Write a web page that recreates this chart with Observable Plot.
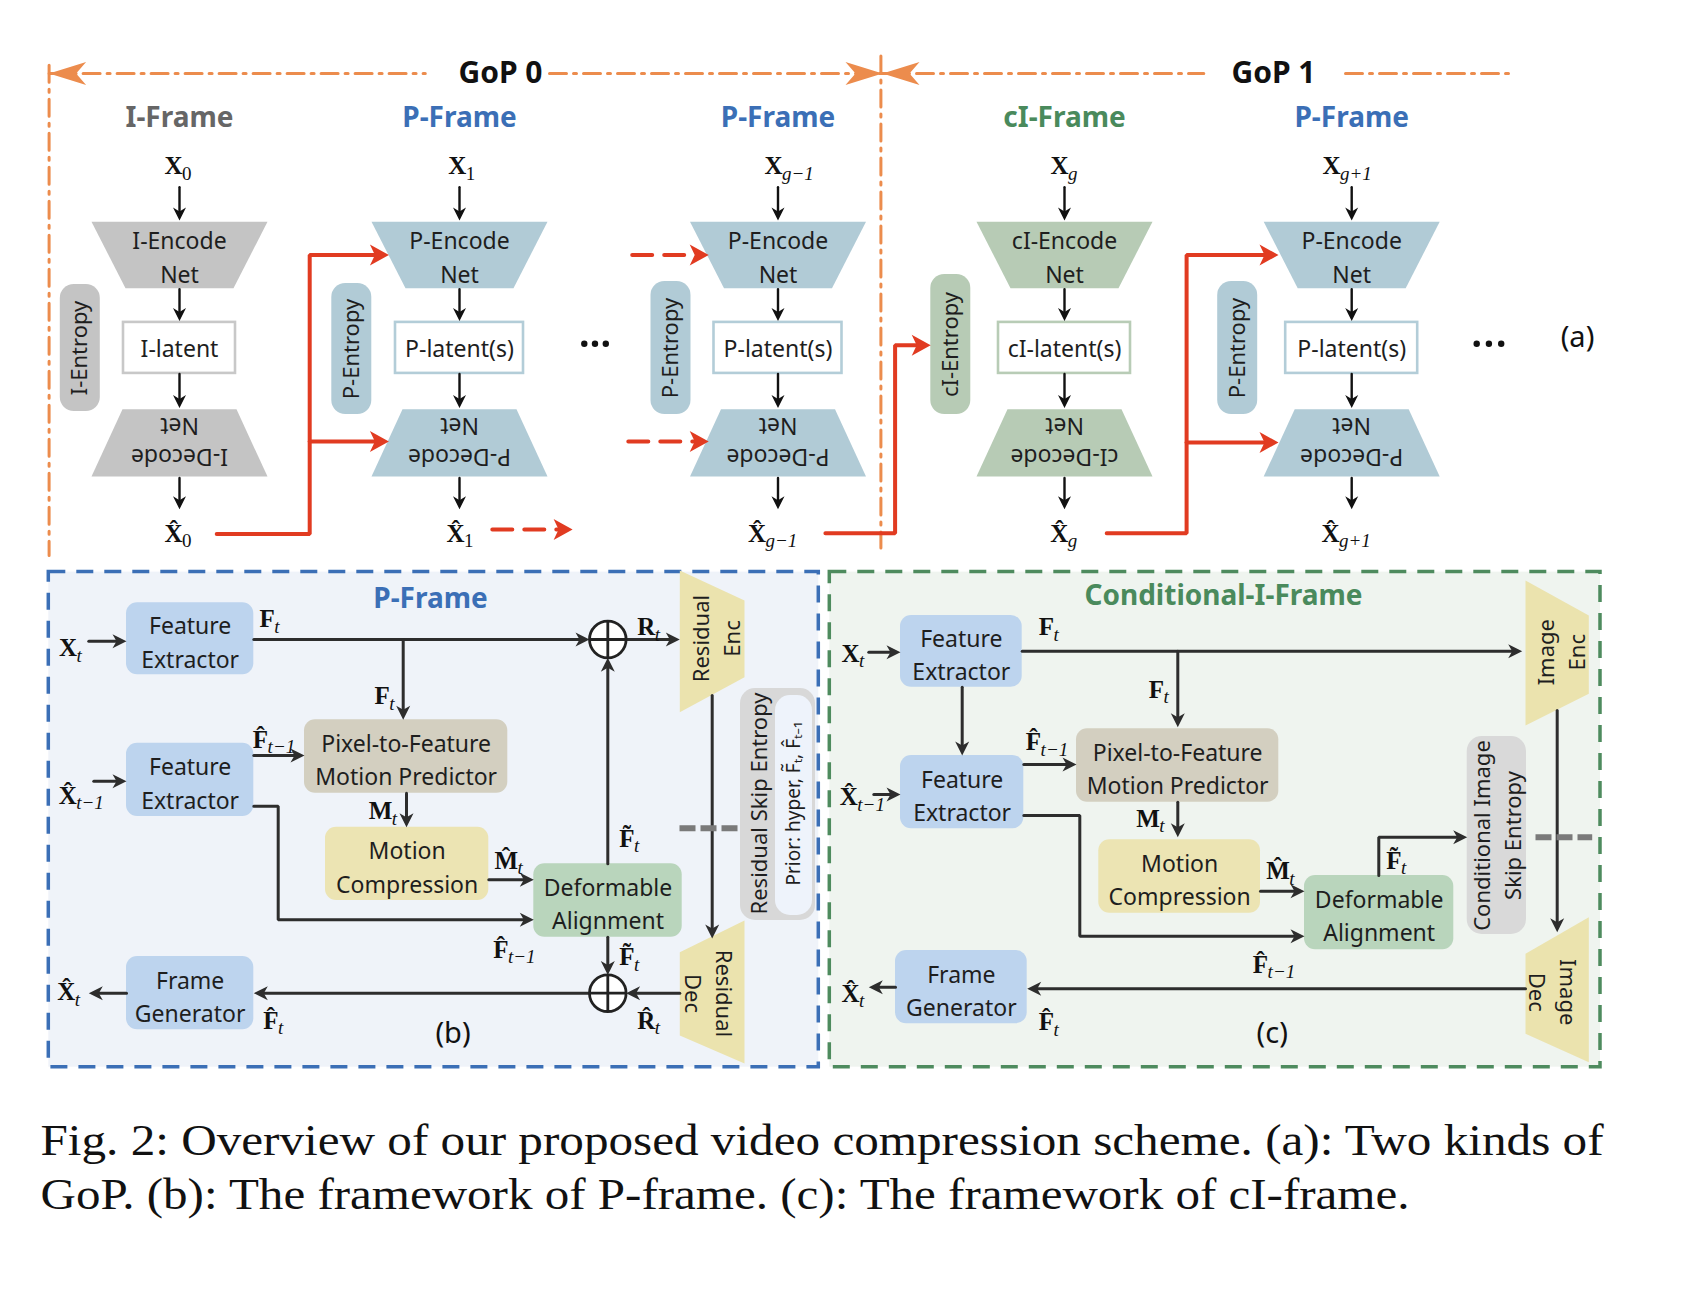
<!DOCTYPE html>
<html>
<head>
<meta charset="utf-8">
<script src="https://cdn.jsdelivr.net/npm/d3@7"></script>
<script src="https://cdn.jsdelivr.net/npm/@observablehq/plot@0.6"></script>
<style>
  html, body { margin: 0; padding: 0; background: #fff; }
  svg { display: block; }
</style>
</head>
<body>
<div id="chart"></div>
<script>
const W = 1682, H = 1296;

// ---------------- labels / categories ----------------
const frameTitles   = ["I-Frame", "P-Frame", "P-Frame", "cI-Frame", "P-Frame"];
const frameKinds    = ["I", "P", "P", "cI", "P"];
const encodeLabels  = ["I-Encode", "P-Encode", "P-Encode", "cI-Encode", "P-Encode"];
const latentLabels  = ["I-latent", "P-latent(s)", "P-latent(s)", "cI-latent(s)", "P-latent(s)"];
const decodeLabels  = ["I-Decode", "P-Decode", "P-Decode", "cI-Decode", "P-Decode"];
const entropyLabels = ["I-Entropy", "P-Entropy", "P-Entropy", "cI-Entropy", "P-Entropy"];
const frameIndex    = ["0", "1", "g−1", "g", "g+1"];
const gopLabels     = ["GoP 0", "GoP 1"];
const panelTitles   = ["P-Frame", "Conditional-I-Frame"];
const panelTags     = ["(a)", "(b)", "(c)"];
const moduleNames   = ["Feature\nExtractor", "Feature\nExtractor", "Frame\nGenerator",
                       "Pixel-to-Feature\nMotion Predictor", "Motion\nCompression", "Deformable\nAlignment"];
const moduleKinds   = ["fe", "fe", "fe", "pf", "mc", "da"];
const codecNames    = ["Residual\nEnc", "Residual\nDec", "Image\nEnc", "Image\nDec"];
const entropyNames  = ["Residual Skip Entropy", "Prior: hyper, F\u0303\u209C, F\u0302\u209C\u208B\u2081", "Conditional Image\nSkip Entropy"];
const captionLines  = [
  "Fig. 2: Overview of our proposed video compression scheme. (a): Two kinds of",
  "GoP. (b): The framework of P-frame. (c): The framework of cI-frame."
];

// ---------------- layout (diagram geometry) ----------------
const colX    = [179, 459, 777.5, 1064, 1351.2];
const entX    = [79.8, 351.3, 670.5, 950.3, 1237.2];
const entY    = [[284, 411], [283, 414], [281, 414], [274, 414], [281, 414]];
const latHalf = [56, 64, 64, 66, 66];
const inX     = [173, 456.7, 773, 1059, 1331];
const outX    = [173, 455, 756.5, 1058.8, 1330];

const panelBoxes = [
  {x1: 48.3, x2: 818.3, y1: 571.6, y2: 1066.7, fill: "#eff3f9", stroke: "#3b6fb6"},
  {x1: 829.3, x2: 1600, y1: 571.6, y2: 1066.7, fill: "#eff4ef", stroke: "#4e8b5e"}
];
const moduleBoxesB = [[126,253.3,602.3,674.3],[126,253.3,742.7,816],[126,253.3,956,1029.3],
                      [304,507.3,719.3,792.7],[325,488.3,826.7,900],[533.3,681.7,863.3,936.7]];
const moduleBoxesC = [[900,1021.7,615,686.7],[900,1023.3,755,828.3],[895,1026.7,950,1023.3],
                      [1076,1278.3,728.3,801.7],[1098.3,1260,839.3,912.7],[1304,1453.3,875,949.3]];

// ---------------- colours ----------------
const kindFill   = {I: "#c4c4c4", P: "#b1cbd6", cI: "#b7cbb5"};
const kindStroke = {I: "#c8c8c8", P: "#b3cdd8", cI: "#b8ccb6"};
const kindTitle  = {I: "#666666", P: "#3b6fb6", cI: "#4a8a5c"};
const moduleFill = {fe: "#bdd4ee", pf: "#d3cfc0", mc: "#ece4b3", da: "#b9d5bc"};
const ORANGE = "#ec8c4d", RED = "#e13b21", INK = "#1e1e1e", WIRE = "#2d2d2d";

// ---------------- geometry builders ----------------
const polys = [];
function poly(fill, pts) { polys.push({id: "p" + polys.length, fill, pts}); }
const wires = [];
function wire(style, pts, arrow = true) { wires.push({style, pts, arrow}); }
const wireStyles = {
  thin:    {stroke: "#111111", width: 2.4, dash: null, head: [13, 6.5, 4]},
  black:   {stroke: WIRE, width: 3, dash: null, head: [14, 7, 4]},
  red:     {stroke: RED, width: 4, dash: null, head: [19, 10.5, 5]},
  redDash: {stroke: RED, width: 4, dash: "20,12", head: [19, 10.5, 5]},
  orange:  {stroke: ORANGE, width: 3, dash: "17,7,3,7", head: null},
  gray:    {stroke: "#7a7a7a", width: 6, dash: "16,5", head: null}
};

// (a) trapezoids and boxes
const latentRects = [], pillRects = [];
frameKinds.forEach((k, i) => {
  const cx = colX[i];
  poly(kindFill[k], [[cx - 88, 221.2], [cx + 88, 221.2], [cx + 54, 287.8], [cx - 54, 287.8]]);
  poly(kindFill[k], [[cx - 57, 408.8], [cx + 57, 408.8], [cx + 88, 476.1], [cx - 88, 476.1]]);
  latentRects.push({x1: cx - latHalf[i], x2: cx + latHalf[i], y1: 321.9, y2: 372.9, stroke: kindStroke[k], label: latentLabels[i], cx});
  pillRects.push({x1: entX[i] - 20, x2: entX[i] + 20, y1: entY[i][0], y2: entY[i][1], fill: kindFill[k], label: entropyLabels[i], cx: entX[i], cy: (entY[i][0] + entY[i][1]) / 2});
  wire("thin", [[cx, 186.8], [cx, 220.1]]);
  wire("thin", [[cx, 288.6], [cx, 320.6]]);
  wire("thin", [[cx, 373.5], [cx, 407.5]]);
  wire("thin", [[cx, 477.5], [cx, 508.7]]);
});

// red reference-frame wires (a)
wire("red", [[216.2, 533.5], [309.2, 533.5], [309.2, 254.5], [388.4, 254.5]]);
wire("red", [[309.2, 441], [388.4, 441]]);
wire("redDash", [[491.8, 529], [572.1, 529]]);
wire("redDash", [[631.7, 254.5], [708.2, 254.5]]);
wire("redDash", [[627.8, 441], [708.2, 441]]);
wire("red", [[824.9, 532.7], [894.6, 532.7], [894.6, 344.8], [930.2, 344.8]]);
wire("red", [[1106.2, 532.7], [1186.1, 532.7], [1186.1, 254.5], [1278, 254.5]]);
wire("red", [[1186.1, 442], [1278, 442]]);

// GoP bracket lines
wire("orange", [[48.6, 72.9], [424.8, 72.9]], false);
wire("orange", [[549, 72.9], [882, 72.9]], false);
wire("orange", [[882, 72.9], [1203.3, 72.9]], false);
wire("orange", [[1345, 72.9], [1509.5, 72.9]], false);
wire("orange", [[48.6, 64.7], [48.6, 555]], false);
wire("orange", [[880.4, 55.5], [880.4, 547.5]], false);

// panel (b) wires
wire("black", [[88.3, 640.7], [126, 640.7]]);
wire("black", [[253.3, 639], [589, 639]]);
wire("black", [[402.7, 639], [402.7, 719.3]]);
wire("black", [[625.6, 639], [679.3, 639]]);
wire("black", [[93.3, 780.7], [126, 780.7]]);
wire("black", [[253.3, 755], [304, 755]]);
wire("black", [[253.3, 805.7], [277.7, 805.7], [277.7, 919.3], [533.3, 919.3]]);
wire("black", [[406, 792.7], [406, 826.7]]);
wire("black", [[488.3, 879.3], [533.3, 879.3]]);
wire("black", [[607.3, 863.3], [607.3, 657.3]]);
wire("black", [[607.3, 936.7], [607.3, 974.4]]);
wire("black", [[711.7, 695], [711.7, 938]]);
wire("black", [[679.3, 992.7], [625.6, 992.7]]);
wire("black", [[589, 992.7], [253.3, 992.7]]);
wire("black", [[126, 992.7], [88.3, 992.7]]);
wire("gray", [[679, 827.7], [737, 827.7]], false);

// panel (c) wires
wire("black", [[868.3, 651.7], [900, 651.7]]);
wire("black", [[1021.7, 650.7], [1521.7, 650.7]]);
wire("black", [[1177.3, 650.7], [1177.3, 726.7]]);
wire("black", [[961.7, 686.7], [961.7, 755]]);
wire("black", [[873.3, 794], [900, 794]]);
wire("black", [[1023.3, 764], [1076, 764]]);
wire("black", [[1177.3, 801.7], [1177.3, 836.7]]);
wire("black", [[1023.3, 815], [1079.3, 815], [1079.3, 935.7], [1304, 935.7]]);
wire("black", [[1260, 890.7], [1304, 890.7]]);
wire("black", [[1378.3, 875], [1378.3, 836.7], [1466.7, 836.7]]);
wire("black", [[1556.7, 710], [1556.7, 931.7]]);
wire("black", [[1525, 988.3], [1026.7, 988.3]]);
wire("black", [[895, 986.7], [868.3, 986.7]]);
wire("gray", [[1535, 836.7], [1591.7, 836.7]], false);

// codec trapezoids (b)/(c)
const codecPolys = [
  [[679.3, 570], [744, 600], [744, 676.7], [679.3, 711.7]],
  [[679.3, 951.7], [744, 920], [744, 1063], [679.3, 1035]],
  [[1525, 580], [1588.3, 615], [1588.3, 693.3], [1525, 725]],
  [[1525, 953.3], [1588.3, 916.7], [1588.3, 1061.7], [1525, 1033.3]]
];
const codecTextPos = [[714, 638, -90], [710, 993, 90], [1559, 651.7, -90], [1554, 991.7, 90]];

// arrowheads
const headPolys = [];
const lineRows = [];
wires.forEach((w, wi) => {
  const st = wireStyles[w.style];
  const pts = w.pts.map(p => p.slice());
  if (w.arrow && st.head) {
    const [len, hw, notch] = st.head;
    const p1 = pts[pts.length - 2], p2 = pts[pts.length - 1];
    const dx = p2[0] - p1[0], dy = p2[1] - p1[1], L = Math.hypot(dx, dy);
    const ux = dx / L, uy = dy / L, nx = -uy, ny = ux;
    const bx = p2[0] - ux * len, by = p2[1] - uy * len;
    const mx = p2[0] - ux * (len - notch), my = p2[1] - uy * (len - notch);
    headPolys.push({id: "h" + wi, fill: st.stroke,
      pts: [p2, [bx + nx * hw, by + ny * hw], [mx, my], [bx - nx * hw, by - ny * hw]]});
    pts[pts.length - 1] = [p2[0] - ux * (len - notch - 1), p2[1] - uy * (len - notch - 1)];
  }
  pts.forEach(([x, y]) => lineRows.push({id: "w" + wi, style: w.style, x, y}));
});
// orange GoP arrowheads (stealth)
function stealth(tipX, tipY, dir) {
  return [[tipX, tipY], [tipX + dir * 37, tipY - 11.5], [tipX + dir * 27, tipY], [tipX + dir * 37, tipY + 11.5]];
}
headPolys.push({id: "o1", fill: ORANGE, pts: stealth(48.6, 72.9, 1)});
headPolys.push({id: "o2", fill: ORANGE, pts: stealth(882, 72.9, -1)});
headPolys.push({id: "o3", fill: ORANGE, pts: stealth(882, 72.9, 1)});

const flat = arr => arr.flatMap(p => p.pts.map(([x, y]) => ({id: p.id, fill: p.fill, x, y})));
codecPolys.forEach(pts => poly("#ebe3ae", pts));

// module boxes
const moduleRects = [];
[moduleBoxesB, moduleBoxesC].forEach(set => set.forEach(([x1, x2, y1, y2], i) => {
  moduleRects.push({x1, x2, y1, y2, fill: moduleFill[moduleKinds[i]], label: moduleNames[i], cx: (x1 + x2) / 2, cy: (y1 + y2) / 2 + 1.5});
}));
const entropyPills = [
  {x1: 740, x2: 815, y1: 688, y2: 920, fill: "#d8d8d8"},
  {x1: 775, x2: 812, y1: 695, y2: 915, fill: "#eef3fb"},
  {x1: 1466.7, x2: 1526, y1: 736, y2: 934, fill: "#d9d9d9"}
];
const sumNodes = [{x: 607.3, y: 639}, {x: 607.3, y: 992.7}];
const R = 18.3;
const sumCross = sumNodes.flatMap(d => [
  {x1: d.x - R, y1: d.y, x2: d.x + R, y2: d.y},
  {x1: d.x, y1: d.y - R, x2: d.x, y2: d.y + R}
]);
const ellipsis = [583.8, 594.5, 605.3, 1476.2, 1488.4, 1500.7].map(x => ({x, y: 343.3}));

// math labels: base glyph, accent, subscript
const ACC = {hat: "\u0302", tilde: "\u0303", "": ""};
const math = [
  ...frameIndex.map((s, i) => ({b: "X", a: "", s, x: inX[i], y: 165.6})),
  ...frameIndex.map((s, i) => ({b: "X", a: "hat", s, x: outX[i], y: 533})),
  // panel (b)
  {b: "X", a: "", s: "t", x: 67.5, y: 647.8},
  {b: "F", a: "", s: "t", x: 266.7, y: 618.7},
  {b: "F", a: "", s: "t", x: 381.7, y: 695.8},
  {b: "F", a: "hat", s: "t−1", x: 260, y: 739},
  {b: "X", a: "hat", s: "t−1", x: 67.2, y: 795},
  {b: "M", a: "", s: "t", x: 380, y: 810.8},
  {b: "M", a: "hat", s: "t", x: 505.8, y: 860},
  {b: "F", a: "hat", s: "t−1", x: 500.3, y: 949.2},
  {b: "F", a: "tilde", s: "t", x: 626.3, y: 838},
  {b: "F", a: "tilde", s: "t", x: 626.3, y: 956.7},
  {b: "R", a: "", s: "t", x: 645.8, y: 626.7},
  {b: "R", a: "hat", s: "t", x: 645.8, y: 1020},
  {b: "X", a: "hat", s: "t", x: 65.8, y: 991.7},
  {b: "F", a: "hat", s: "t", x: 270.3, y: 1020},
  // panel (c)
  {b: "X", a: "", s: "t", x: 850, y: 653.3},
  {b: "F", a: "", s: "t", x: 1045.8, y: 626.7},
  {b: "F", a: "", s: "t", x: 1155.8, y: 689.2},
  {b: "F", a: "hat", s: "t−1", x: 1033, y: 741.7},
  {b: "X", a: "hat", s: "t−1", x: 848.3, y: 796.7},
  {b: "M", a: "", s: "t", x: 1147.5, y: 818.3},
  {b: "M", a: "hat", s: "t", x: 1277.5, y: 870.8},
  {b: "F", a: "tilde", s: "t", x: 1393.3, y: 860},
  {b: "F", a: "hat", s: "t−1", x: 1260, y: 964.2},
  {b: "X", a: "hat", s: "t", x: 850, y: 993.3},
  {b: "F", a: "hat", s: "t", x: 1045.8, y: 1021.7}
];
const halfAdv = {X: 9.0, F: 7.6, M: 11.8, R: 9.0};
const subRows = math.map(d => ({...d, sx: d.x + halfAdv[d.b] - 0.5, sy: d.y + 7.5, upright: /^\d+$/.test(d.s)}));

// text rows
const titleRows = [
  ...frameTitles.map((t, i) => ({t, x: colX[i], y: 118, c: kindTitle[frameKinds[i]]})),
  {t: panelTitles[0], x: 430, y: 599, c: "#3b6fb6"},
  {t: panelTitles[1], x: 1223, y: 596, c: "#4a8a5c"}
];
const gopRows = [{t: gopLabels[0], x: 500, y: 73}, {t: gopLabels[1], x: 1273, y: 73}];
const plainRows = [
  ...encodeLabels.map((t, i) => ({t, x: colX[i], y: 240.7})),
  ...encodeLabels.map((t, i) => ({t: "Net", x: colX[i], y: 274.8})),
  ...latentRects.map(d => ({t: d.label, x: d.cx, y: 348.8}))
];
const flippedRows = [
  ...decodeLabels.map((t, i) => ({t: "Net", x: colX[i], y: 424.5})),
  ...decodeLabels.map((t, i) => ({t, x: colX[i], y: 456}))
];
const tagRows = [{t: panelTags[0], x: 1577, y: 337}, {t: panelTags[1], x: 452.5, y: 1033}, {t: panelTags[2], x: 1271.7, y: 1033}];
const rotRows = [
  ...codecNames.map((t, i) => ({t, x: codecTextPos[i][0], y: codecTextPos[i][1], r: codecTextPos[i][2]})),
  {t: entropyNames[0], x: 756.7, y: 803, r: -90},
  {t: entropyNames[2], x: 1495, y: 835, r: -90}
];
const captionRows = captionLines.map((t, i) => ({t, x: 40, y: [1139.6, 1193.9][i]}));

const SANS = "Noto Sans, Open Sans, sans-serif";
const SERIF = "Liberation Serif, DejaVu Serif, serif";

const chart = Plot.plot({
  width: W, height: H, margin: 0,
  x: {domain: [0, W], range: [0, W], axis: null},
  y: {domain: [0, H], range: [0, H], axis: null},
  color: {type: "identity"},
  style: {background: "#ffffff"},
  marks: [
    // panels
    Plot.rect(panelBoxes, {x1: "x1", x2: "x2", y1: "y1", y2: "y2", fill: "fill", stroke: "stroke", strokeWidth: 3.5, strokeDasharray: "17,11"}),
    // orange GoP lines
    Plot.line(lineRows.filter(d => d.style === "orange"), {x: "x", y: "y", z: "id", stroke: ORANGE, strokeWidth: 3, strokeDasharray: "17,7,3,7"}),
    // shapes
    Plot.line(flat(polys), {x: "x", y: "y", z: "id", fill: "fill", stroke: "none"}),
    Plot.rect(pillRects, {x1: "x1", x2: "x2", y1: "y1", y2: "y2", fill: "fill", rx: 14}),
    Plot.rect(latentRects, {x1: "x1", x2: "x2", y1: "y1", y2: "y2", fill: "#ffffff", stroke: "stroke", strokeWidth: 2.6}),
    Plot.rect(moduleRects, {x1: "x1", x2: "x2", y1: "y1", y2: "y2", fill: "fill", rx: 11}),
    Plot.rect(entropyPills, {x1: "x1", x2: "x2", y1: "y1", y2: "y2", fill: "fill", rx: 15}),
    // wires
    Plot.line(lineRows.filter(d => d.style === "thin"), {x: "x", y: "y", z: "id", stroke: "#111111", strokeWidth: 2.4}),
    Plot.line(lineRows.filter(d => d.style === "black"), {x: "x", y: "y", z: "id", stroke: WIRE, strokeWidth: 3, strokeLinejoin: "miter"}),
    Plot.line(lineRows.filter(d => d.style === "red"), {x: "x", y: "y", z: "id", stroke: RED, strokeWidth: 4, strokeLinejoin: "miter"}),
    Plot.line(lineRows.filter(d => d.style === "redDash"), {x: "x", y: "y", z: "id", stroke: RED, strokeWidth: 4, strokeDasharray: "20,12"}),
    Plot.line(lineRows.filter(d => d.style === "gray"), {x: "x", y: "y", z: "id", stroke: "#7a7a7a", strokeWidth: 6, strokeDasharray: "16,5", strokeLinecap: "butt"}),
    Plot.line(flat(headPolys), {x: "x", y: "y", z: "id", fill: "fill", stroke: "none"}),
    // summation nodes
    Plot.dot(sumNodes, {x: "x", y: "y", r: R, fill: "#ffffff", stroke: "#222222", strokeWidth: 2.8}),
    Plot.link(sumCross, {x1: "x1", y1: "y1", x2: "x2", y2: "y2", stroke: "#222222", strokeWidth: 2.8}),
    Plot.dot(ellipsis, {x: "x", y: "y", r: 3.2, fill: "#111111"}),
    // texts
    Plot.text(gopRows, {x: "x", y: "y", text: "t", fontFamily: SANS, fontWeight: "bold", fontSize: 30, fill: "#111111"}),
    Plot.text(titleRows, {x: "x", y: "y", text: "t", fontFamily: SANS, fontWeight: "bold", fontSize: 28, fill: "c"}),
    Plot.text(plainRows, {x: "x", y: "y", text: "t", fontFamily: SANS, fontSize: 23, fill: INK}),
    Plot.text(flippedRows, {x: "x", y: "y", text: "t", rotate: 180, fontFamily: SANS, fontSize: 23, fill: INK}),
    Plot.text(pillRects, {x: "cx", y: "cy", text: "label", rotate: -90, fontFamily: SANS, fontSize: 22, fill: INK}),
    Plot.text(moduleRects, {x: "cx", y: "cy", text: "label", fontFamily: SANS, fontSize: 23, lineHeight: 1.45, fill: INK}),
    Plot.text(rotRows, {x: "x", y: "y", text: "t", rotate: "r", fontFamily: SANS, fontSize: 22, lineHeight: 1.4, fill: INK}),
    Plot.text([{t: entropyNames[1], x: 793, y: 803}], {x: "x", y: "y", text: "t", rotate: -90, fontFamily: SANS, fontSize: 19, fill: INK}),
    Plot.text(tagRows, {x: "x", y: "y", text: "t", fontFamily: SANS, fontSize: 29, fill: "#111111"}),
    Plot.text(math, {x: "x", y: "y", text: d => d.b + ACC[d.a], fontFamily: SERIF, fontWeight: "bold", fontSize: 25, fill: "#111111"}),
    Plot.text(subRows.filter(d => !d.upright), {x: "sx", y: "sy", text: "s", textAnchor: "start", fontFamily: SERIF, fontStyle: "italic", fontSize: 19, fill: "#111111"}),
    Plot.text(subRows.filter(d => d.upright), {x: "sx", y: "sy", text: "s", textAnchor: "start", fontFamily: SERIF, fontSize: 19, fill: "#111111"}),
    Plot.text(captionRows, {x: "x", y: "y", text: "t", textAnchor: "start", fontFamily: SERIF, fontSize: 45, fill: "#111111"})
  ]
});

// justify caption lines to the reference widths
const capLens = [1563, 1369];
d3.select(chart).selectAll("text").each(function () {
  const k = captionLines.indexOf(this.textContent);
  if (k >= 0) {
    this.setAttribute("textLength", capLens[k]);
    this.setAttribute("lengthAdjust", "spacingAndGlyphs");
  }
});
document.getElementById("chart").appendChild(chart);
</script>
</body>
</html>
